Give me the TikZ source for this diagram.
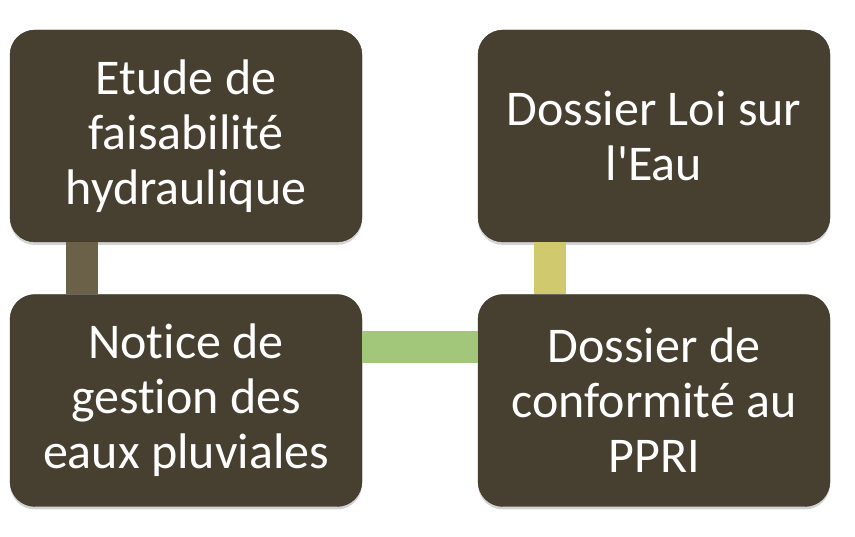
\documentclass[tikz,border=0pt]{standalone}
\usepackage{fontspec}
\setmainfont{Carlito}[Ligatures=NoCommon]
\usepackage{tikz}
\usetikzlibrary{shadows}
\definecolor{boxfill}{HTML}{474030}
\definecolor{linkolive}{HTML}{6B6149}
\definecolor{linkgreen}{HTML}{A3C77A}
\definecolor{linkyellow}{HTML}{D0C96D}
\tikzset{
    stagebox/.style={rounded corners=25pt, fill=boxfill, draw=boxfill!80!black,
        minimum width=352pt, minimum height=212pt, text=white, align=center,
        font=\fontsize{50}{55}\selectfont,
        drop shadow={shadow xshift=0pt, shadow yshift=-3pt, opacity=0.35}},
    link/.style={line width=32pt},
}

\begin{document}
\begin{tikzpicture}[x=1pt, y=1pt]
    \useasboundingbox (0,0) rectangle (855,537);

    % Boxes
    \node[stagebox] (etude) at (186,401) {Etude de\\faisabilité\\hydraulique};
    \node[stagebox] (notice) at (186,136.5) {Notice de\\gestion des\\eaux pluviales};
    \node[stagebox] (loi) at (654,401) {Dossier Loi sur\\l\textquotesingle Eau};
    \node[stagebox] (ppri) at (654,136.5) {Dossier de\\conformité au\\PPRI};

    % Connectors
    \draw[link, draw=linkolive] ([xshift=-104pt]etude.south) -- ([xshift=-104pt]notice.north);
    \draw[link, draw=linkgreen] ([yshift=53.5pt]notice.east) -- ([yshift=53.5pt]ppri.west);
    \draw[link, draw=linkyellow] ([xshift=-104.5pt]loi.south) -- ([xshift=-104.5pt]ppri.north);

\end{tikzpicture}
\end{document}
